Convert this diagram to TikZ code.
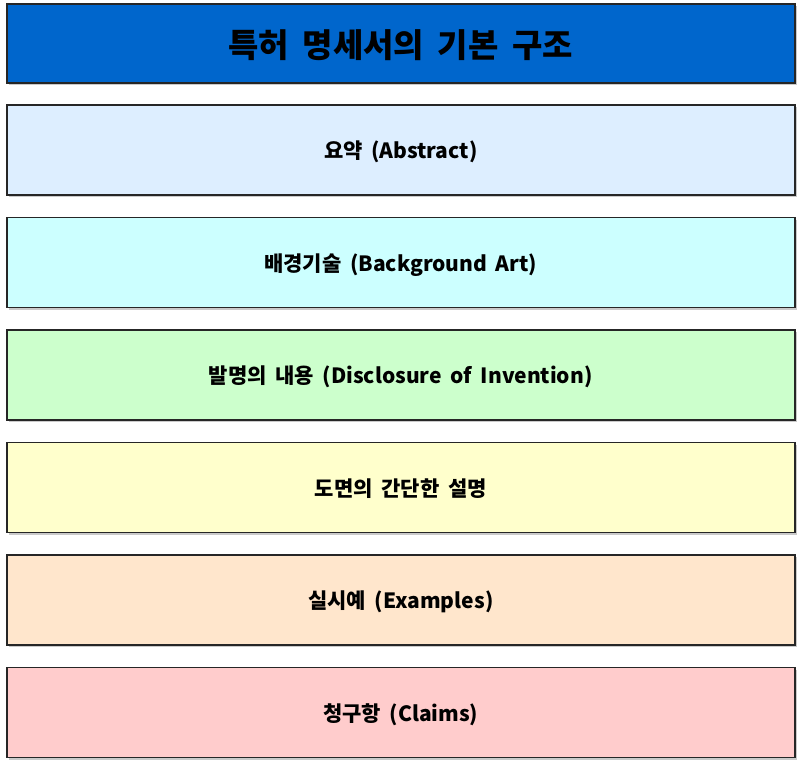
\documentclass[tikz,border=0pt]{standalone}
\usepackage{fontspec}
\setmainfont{Noto Sans CJK KR}[WordSpace=1.8]
\usetikzlibrary{shadows}
\definecolor{titleblue}{HTML}{0066CC}
\definecolor{cabs}{HTML}{DDEEFF}
\definecolor{cbg}{HTML}{CCFFFF}
\definecolor{cdis}{HTML}{CCFFCC}
\definecolor{cdraw}{HTML}{FFFFCC}
\definecolor{cex}{HTML}{FFE6CC}
\definecolor{ccl}{HTML}{FFCCCC}
\tikzset{
  secbox/.style={draw=black!85, line width=1.5pt, minimum width=788pt, minimum height=90pt,
    inner sep=0pt, font=\fontsize{21}{25}\selectfont\bfseries, text depth=0pt,
    drop shadow={shadow xshift=2.5pt, shadow yshift=-2.5pt, fill=black!35, opacity=0.6}},
  titlebox/.style={secbox, fill=titleblue, minimum height=79pt, font=\fontsize{33}{38}\selectfont\bfseries}
}
\begin{document}
\begin{tikzpicture}[x=1pt,y=1pt]
\useasboundingbox (0,0) rectangle (800,-766);
\node[titlebox, anchor=north west] (title) at (6,-3) {특허 명세서의 기본 구조};
\node[secbox, fill=cabs, anchor=north west] (abs) at (6,-104) {요약 (Abstract)};
\node[secbox, fill=cbg, anchor=north west] (bg) at (6,-216.5) {배경기술 (Background Art)};
\node[secbox, fill=cdis, anchor=north west] (dis) at (6,-329) {발명의 내용 (Disclosure of Invention)};
\node[secbox, fill=cdraw, anchor=north west] (drw) at (6,-441.5) {도면의 간단한 설명};
\node[secbox, fill=cex, anchor=north west] (ex) at (6,-554) {실시예 (Examples)};
\node[secbox, fill=ccl, anchor=north west] (cl) at (6,-666.5) {청구항 (Claims)};
\end{tikzpicture}
\end{document}
